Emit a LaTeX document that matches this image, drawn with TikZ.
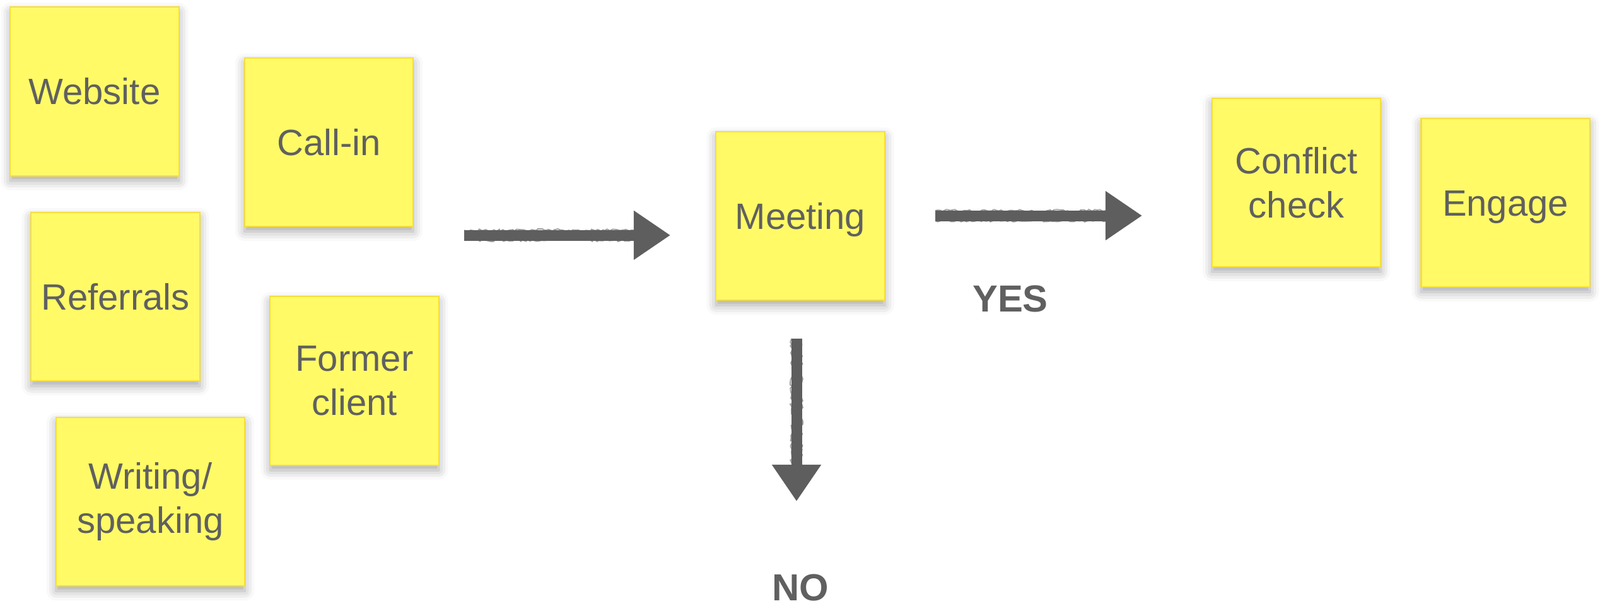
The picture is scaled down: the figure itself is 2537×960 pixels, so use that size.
\documentclass[tikz,border=0pt]{standalone}
\usepackage{fontspec}
\setmainfont{Liberation Sans}
\usetikzlibrary{arrows.meta,shadows.blur,decorations.pathmorphing}
\definecolor{notefill}{RGB}{255,250,102}
\definecolor{noteedge}{RGB}{246,222,60}
\definecolor{inkgray}{RGB}{94,94,94}
\definecolor{txtgray}{RGB}{96,96,96}
\tikzset{
  note/.style={rectangle, draw=noteedge, line width=0.6pt, fill=notefill,
    minimum width=2.67cm, minimum height=2.67cm, inner sep=0pt,
    align=center, text=txtgray,
    font=\fontsize{16.5pt}{19.9pt}\selectfont,
    blur shadow={shadow xshift=0pt, shadow yshift=-0.08cm,
      shadow blur radius=0.15cm, shadow opacity=35}},
  oneline/.style={text height=0.415cm, text depth=0cm},
  wide/.style={minimum width=2.99cm},
  sketcharrow/.style={draw=inkgray, line width=0.17cm,
    -{Triangle[length=0.58cm,width=0.74cm]}, fill=inkgray},
  roughedge/.style={draw=inkgray, line width=0.5pt, opacity=0.6,
    decorate, decoration={random steps, segment length=1.2pt, amplitude=0.6pt}},
  answer/.style={text=txtgray, font=\bfseries\fontsize{17pt}{20pt}\selectfont,
    text height=0.43cm, text depth=0cm}
}
\begin{document}
\begin{tikzpicture}[x=0.01cm, y=-0.01cm]
\useasboundingbox (0,0) rectangle (2537,960);

\node[note, oneline] (web) at (150,145) {Website};
\node[note, oneline] (call) at (521.5,225.5) {Call-in};
\node[note, oneline] (ref) at (183,470.5) {Referrals};
\node[note] (former) at (562,604) {Former\\client};
\node[note, wide] (writ) at (238.5,795.5) {Writing/\\speaking};
\node[note, oneline] (meet) at (1269,342.5) {Meeting};
\node[note] (conf) at (2055.5,289.5) {Conflict\\check};
\node[note, oneline] (eng) at (2387,321.5) {Engage};

\coordinate (a1s) at (736,373);
\coordinate (a1e) at (1063,373);
\coordinate (a2s) at (1483,342);
\coordinate (a2e) at (1811,342);
\coordinate (a3s) at (1263,537);
\coordinate (a3e) at (1263,795);

\draw[sketcharrow] (a1s) -- (a1e);
\draw[sketcharrow] (a2s) -- (a2e);
\draw[sketcharrow] (a3s) -- (a3e);

\draw[roughedge] ([yshift=-0.08cm]a1s) -- ([xshift=-0.57cm,yshift=-0.08cm]a1e);
\draw[roughedge] ([yshift=0.08cm]a1s) -- ([xshift=-0.57cm,yshift=0.08cm]a1e);
\draw[roughedge] ([yshift=-0.08cm]a2s) -- ([xshift=-0.57cm,yshift=-0.08cm]a2e);
\draw[roughedge] ([yshift=0.08cm]a2s) -- ([xshift=-0.57cm,yshift=0.08cm]a2e);
\draw[roughedge] ([xshift=-0.08cm]a3s) -- ([xshift=-0.08cm,yshift=0.57cm]a3e);
\draw[roughedge] ([xshift=0.08cm]a3s) -- ([xshift=0.08cm,yshift=0.57cm]a3e);

\node[answer] (yes) at (1602,473) {YES};
\node[answer] (no) at (1269,931) {NO};
\end{tikzpicture}
\end{document}
